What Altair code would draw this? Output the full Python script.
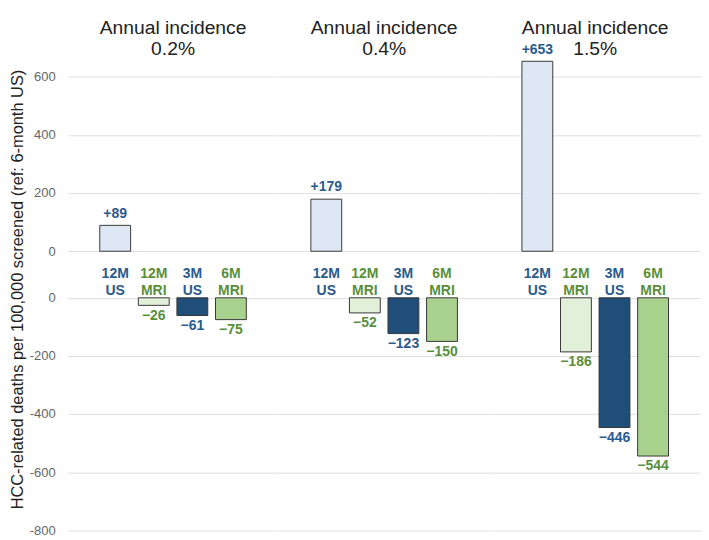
import altair as alt
import pandas as pd

panels = ["0.2%", "0.4%", "1.5%"]
strategies = ["12M US", "12M MRI", "3M US", "6M MRI"]
values_02 = [89, -26, -61, -75]
values_04 = [179, -52, -123, -150]
values_15 = [653, -186, -446, -544]
modality = ["US", "MRI", "US", "MRI"]
fill_colors = ["#dde8f4", "#e2efd9", "#1f4e79", "#a9d18e"]
label_colors = {"US": "#2b5a8c", "MRI": "#5a8f3a"}

GAP = 160  # axis break between positive and negative halves

rows = []
for p, vals in zip(panels, [values_02, values_04, values_15]):
    for s, v, m in zip(strategies, vals, modality):
        rows.append({"panel": p, "strategy": s, "value": v, "modality": m})
df = pd.DataFrame(rows)

base = alt.Chart().transform_calculate(
    y0=f"datum.value > 0 ? {GAP} : 0",
    y1=f"datum.value > 0 ? datum.value + {GAP} : datum.value",
    lbl="(datum.value > 0 ? '+' : '\u2212') + abs(datum.value)",
    catlines="split(datum.strategy, ' ')",
    mid=f"{GAP / 2}",
)

x_enc = alt.X("strategy:N", sort=strategies, axis=None,
              scale=alt.Scale(paddingInner=0.2, paddingOuter=0.83))
y_scale = alt.Scale(domain=[-800, 700 + GAP], nice=False, zero=False)
tick_vals = [-800, -600, -400, -200, 0, GAP, GAP + 200, GAP + 400, GAP + 600]
color_enc = alt.Color("modality:N", scale=alt.Scale(domain=list(label_colors), range=list(label_colors.values())), legend=None)

bars = base.mark_bar(stroke="#333333", strokeWidth=1).encode(
    x=x_enc,
    y=alt.Y("y0:Q", scale=y_scale,
            axis=alt.Axis(values=tick_vals,
                          labelExpr=f"datum.value >= {GAP} ? '' + (datum.value - {GAP}) : '' + datum.value",
                          title="HCC-related deaths per 100,000 screened (ref: 6-month US)",
                          grid=True, gridColor="#dedede", domain=False, ticks=False,
                          labelColor="#666666", labelFontSize=13.5, labelPadding=13,
                          labelFont="Liberation Sans",
                          titleFont="Liberation Sans", titleFontSize=17,
                          titleFontWeight="normal", titleColor="#222222", titlePadding=3)),
    y2="y1:Q",
    fill=alt.Fill("strategy:N", scale=alt.Scale(domain=strategies, range=fill_colors), legend=None),
)

pos_labels = base.transform_filter("datum.value > 0").mark_text(
    baseline="bottom", dy=-5, fontSize=14.5, fontWeight="bold", font="Liberation Sans"
).encode(
    x=x_enc, y=alt.Y("y1:Q", scale=y_scale), text="lbl:N", color=color_enc,
)

neg_labels = base.transform_filter("datum.value < 0").mark_text(
    baseline="top", dy=4, fontSize=14.5, fontWeight="bold", font="Liberation Sans"
).encode(
    x=x_enc, y=alt.Y("y1:Q", scale=y_scale), text="lbl:N", color=color_enc,
)

cat_labels = base.mark_text(
    baseline="middle", fontSize=14.5, fontWeight="bold", font="Liberation Sans", lineHeight=17.5
).encode(
    x=x_enc, y=alt.Y("mid:Q", scale=y_scale), text=alt.Text("catlines:N"), color=color_enc,
)

layered = alt.layer(bars, pos_labels, neg_labels, cat_labels).properties(width=218.5, height=501)

chart = layered.facet(
    data=df,
    column=alt.Column("panel:N", sort=panels,
                      header=alt.Header(title=None, labelExpr="['Annual incidence', datum.value]",
                                        labelFontSize=20, labelFont="Liberation Sans",
                                        labelColor="#222222", labelPadding=-18, labelLineHeight=22.5)),
    spacing=0,
).properties(
    padding={"left": 0, "top": 0, "right": 0, "bottom": 0}
).configure_view(stroke=None)

chart.save("out.html", embed_options={"renderer": "svg", "actions": False})
